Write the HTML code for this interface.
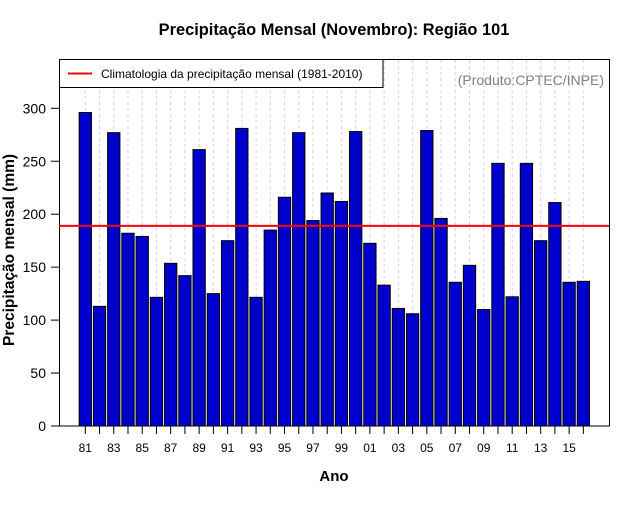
<!DOCTYPE html>
<html><head><meta charset="utf-8"><style>
body{margin:0;background:#fff}
svg text{font-family:"Liberation Sans",sans-serif}
</style></head><body>
<svg id="chart" width="640" height="500" xmlns="http://www.w3.org/2000/svg">
<rect width="640" height="500" fill="#fff"/>
<text x="334" y="35" text-anchor="middle" font-size="16.4" font-weight="bold">Precipitação Mensal (Novembro): Região 101</text>
<g id="grid"></g>
<g id="bars"></g>
<g id="axes"></g>
<rect x="59.5" y="59.5" width="550" height="366.5" fill="none" stroke="#000" stroke-width="1"/>
<line id="clim" x1="59" x2="609" stroke="#ff0000" stroke-width="2"/>
<g>
<rect x="59.5" y="59.5" width="323.5" height="28" fill="#fff" stroke="#000"/>
<line x1="68" x2="92" y1="73.5" y2="73.5" stroke="#ff0000" stroke-width="2"/>
<text x="101" y="78" font-size="12">Climatologia da precipitação mensal (1981-2010)</text>
</g>
<text x="604" y="85" text-anchor="end" font-size="14" fill="#808080">(Produto:CPTEC/INPE)</text>
<text x="334" y="481" text-anchor="middle" font-size="15" font-weight="bold">Ano</text>
<text transform="translate(14,250) rotate(-90)" text-anchor="middle" font-size="15.5" font-weight="bold">Precipitação mensal (mm)</text>
</svg>
<script>
const years=[81,82,83,84,85,86,87,88,89,90,91,92,93,94,95,96,97,98,99,0,1,2,3,4,5,6,7,8,9,10,11,12,13,14,15,16];
const values=[296,113,277,182,179,121.5,153.6,142,261,125,175,281,121.5,185,216,277,194,220,212,278,172.5,133,111,106,279,196,135.7,151.7,110,248,122,248,175,211,135.7,136.6];
const climatology=189;
const yTicks=[0,50,100,150,200,250,300];
const NS='http://www.w3.org/2000/svg';
const y=v=>426-v*1.059;
const x=i=>85.3+i*14.23;
const bw=12.3;
function mk(tag,attrs,parent){const e=document.createElementNS(NS,tag);for(const k in attrs)e.setAttribute(k,attrs[k]);parent.appendChild(e);return e;}
const grid=document.getElementById('grid'),bars=document.getElementById('bars'),axes=document.getElementById('axes');
years.forEach((yr,i)=>{
 const g=mk('line',{x1:x(i),x2:x(i),y1:60,y2:426,stroke:'#d3d3d3','stroke-dasharray':'3,3'},grid);
 
 
 const b=mk('rect',{x:x(i)-bw/2,y:y(values[i]),width:bw,height:426-y(values[i]),fill:'#0000cd',stroke:'#000','stroke-width':1},bars);
 
 
 const t=mk('line',{x1:x(i),x2:x(i),y1:426,y2:434,stroke:'#000'},axes);
 
 
 if(i%2===0){
  const l=mk('text',{x:x(i),y:452,'text-anchor':'middle','font-size':12},axes);
  l.textContent=String(yr).padStart(2,'0');
  
  
 }
});
yTicks.forEach(v=>{
 const t=mk('line',{x1:51,x2:59,y1:y(v),y2:y(v),stroke:'#000'},axes);
 
 
 const l=mk('text',{x:46,y:y(v)+5,'text-anchor':'end','font-size':14},axes);
 l.textContent=v;
 
 
});
const c=document.getElementById('clim');c.setAttribute('y1',y(climatology));c.setAttribute('y2',y(climatology));
</script>
</body></html>
